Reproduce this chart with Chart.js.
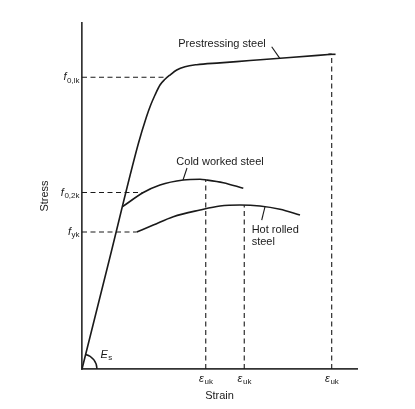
<!DOCTYPE html>
<html>
<head>
<meta charset="utf-8">
<script src="https://cdn.jsdelivr.net/npm/chart.js@4.4.1/dist/chart.umd.min.js"></script>
<style>
  html, body { margin: 0; padding: 0; background: #fff; }
  #wrap { width: 415px; height: 409px; position: relative; }
</style>
</head>
<body>
<div id="wrap"><canvas id="chart"></canvas></div>
<script>
// Stress-strain curves (arbitrary units, both axes 0-100)
const prestressStrain = [0, 10.0, 20.5, 23.45, 24.98, 26.55, 28.36, 30.18, 32.0, 34.44, 37.45, 41.71, 50.18, 61.09, 75.64, 90.80];
const prestressStress = [0, 31.79, 65.17, 72.9, 76.30, 79.19, 82.08, 83.73, 84.97, 86.42, 87.37, 87.95, 88.47, 89.15, 90.05, 90.95];

const coldStrain = [14.76, 22.3, 28.36, 36.84, 42.91, 45.35, 51.38, 58.65];
const coldStress = [46.93, 51.0, 53.18, 54.62, 54.83, 54.62, 53.84, 52.23];

const hotStrain = [19.9, 25.93, 33.20, 42.91, 50.18, 57.45, 64.73, 72.00, 79.27];
const hotStress = [39.6, 41.62, 44.02, 45.95, 47.11, 47.40, 47.11, 46.16, 44.51];

// Characteristic values on the axes
const stressTicks = [84.3, 51.0, 39.6];
const stressTickLabels = [['f', '0,lk'], ['f', '0,2k'], ['f', 'yk']];
const stressGuideEnds = [30.9, 22.3, 19.9];   // strain where each dashed line meets its curve

const strainTicks = [45.0, 59.0, 90.8];
const strainTickLabels = [['\u03b5', 'uk'], ['\u03b5', 'uk'], ['\u03b5', 'uk']];
const strainGuideTops = [54.7, 47.35, 90.95]; // stress where each dashed line meets its curve

// End cap of the prestressing curve
const capStrain = [89.6, 92.2];
const capStress = [90.95, 90.95];

// Curve names and their leader lines
const curveNames = ['Prestressing steel', 'Cold worked steel', 'Hot rolled\nsteel'];
const nameStrain = [50.9, 50.2, 61.7];
const nameStress = [93.93, 59.74, 40.17];
const nameAlign = ['center', 'center', 'left'];
const leaderStrain = [[68.98, 72.0], [38.18, 36.73], [65.35, 66.55]];
const leaderStress = [[93.15, 89.7], [58.09, 54.62], [43.06, 46.9]];

// Modulus label near the origin
const modulusLabel = ['E', 's'];
const modulusAt = { x: 6.73, y: 4.19 };

const FONT = '"Liberation Sans", Arial, Helvetica, sans-serif';
const INK = '#1a1a1a';

function pts(xs, ys) {
    return xs.map((x, i) => ({ x, y: ys[i] }));
}

function lineSet(data, opts) {
    return Object.assign({
        data,
        showLine: true,
        borderColor: INK,
        borderWidth: 1.6,
        pointRadius: 0,
        fill: false,
        clip: false,
    }, opts);
}

const datasets = [];

// Main curves
datasets.push(lineSet(pts(prestressStrain, prestressStress), { cubicInterpolationMode: 'monotone' }));
datasets.push(lineSet(pts(coldStrain, coldStress), { cubicInterpolationMode: 'monotone' }));
datasets.push(lineSet(pts(hotStrain, hotStress), { cubicInterpolationMode: 'monotone' }));
datasets.push(lineSet(pts(capStrain, capStress), {}));

// Dashed guides
stressTicks.forEach((v, i) => {
    datasets.push(lineSet(pts([0, stressGuideEnds[i]], [v, v]), { borderWidth: 1.1, borderDash: [5, 3.5] }));
});
strainTicks.forEach((v, i) => {
    datasets.push(lineSet(pts([v, v], [0, strainGuideTops[i]]), { borderWidth: 1.1, borderDash: [5, 3.5] }));
});

// Leaders
leaderStrain.forEach((xs, i) => {
    datasets.push(lineSet(pts(xs, leaderStress[i]), { borderWidth: 1.1 }));
});

function drawSub(ctx, main, sub, x, y, align, size) {
    ctx.font = 'italic ' + size + 'px ' + FONT;
    const w1 = ctx.measureText(main).width;
    ctx.font = (size - 3) + 'px ' + FONT;
    const w2 = ctx.measureText(sub).width;
    let left = x;
    if (align === 'right') left = x - w1 - w2;
    else if (align === 'center') left = x - (w1 + w2) / 2;
    ctx.textAlign = 'left';
    ctx.textBaseline = 'middle';
    ctx.font = 'italic ' + size + 'px ' + FONT;
    ctx.fillText(main, left, y);
    ctx.font = (size - 3) + 'px ' + FONT;
    ctx.fillText(sub, left + w1 + 0.5, y + 3);
}

const annotations = {
    id: 'annotations',
    afterDraw(chart) {
        const ctx = chart.ctx;
        const xs = chart.scales.x;
        const ys = chart.scales.y;
        const area = chart.chartArea;
        ctx.save();
        ctx.fillStyle = INK;

        // Stress tick labels
        stressTicks.forEach((v, i) => {
            drawSub(ctx, stressTickLabels[i][0], stressTickLabels[i][1], area.left - 3, ys.getPixelForValue(v), 'right', 11);
        });
        // Strain tick labels
        strainTicks.forEach((v, i) => {
            drawSub(ctx, strainTickLabels[i][0], strainTickLabels[i][1], xs.getPixelForValue(v), area.bottom + 10, 'center', 11);
        });

        // Curve names
        ctx.font = '11px ' + FONT;
        ctx.textBaseline = 'middle';
        curveNames.forEach((name, i) => {
            ctx.textAlign = nameAlign[i];
            name.split('\n').forEach((line, j) => {
                ctx.fillText(line, xs.getPixelForValue(nameStrain[i]), ys.getPixelForValue(nameStress[i]) + j * 11.7);
            });
        });

        // Axis titles
        ctx.textAlign = 'center';
        ctx.fillText('Strain', (area.left + area.right) / 2, area.bottom + 27);
        ctx.save();
        ctx.translate(area.left - 37, (area.top + area.bottom) / 2);
        ctx.rotate(-Math.PI / 2);
        ctx.fillText('Stress', 0, 0);
        ctx.restore();

        // Modulus arc between the strain axis and the elastic line
        const ox = xs.getPixelForValue(0);
        const oy = ys.getPixelForValue(0);
        const ex = xs.getPixelForValue(prestressStrain[2]);
        const ey = ys.getPixelForValue(prestressStress[2]);
        const ang = Math.atan2(ey - oy, ex - ox);
        ctx.beginPath();
        ctx.strokeStyle = INK;
        ctx.lineWidth = 1.4;
        ctx.arc(ox, oy, 15, ang, 0);
        ctx.stroke();
        drawSub(ctx, modulusLabel[0], modulusLabel[1], xs.getPixelForValue(modulusAt.x), ys.getPixelForValue(modulusAt.y), 'left', 11);

        ctx.restore();
    }
};

const axisBase = {
    type: 'linear',
    min: 0,
    max: 100,
    grid: { display: false, drawTicks: false },
    ticks: { display: false },
    border: { display: true, color: '#333', width: 1.7 },
};

new Chart(document.getElementById('chart'), {
    type: 'scatter',
    data: { datasets },
    options: {
        responsive: true,
        maintainAspectRatio: false,
        animation: false,
        layout: { padding: { left: 82, right: 58, top: 23, bottom: 40 } },
        plugins: { legend: { display: false }, tooltip: { enabled: false } },
        scales: {
            x: Object.assign({}, axisBase, {
                afterBuildTicks: (s) => { s.ticks = strainTicks.map(v => ({ value: v })); }
            }),
            y: Object.assign({}, axisBase, {
                afterBuildTicks: (s) => { s.ticks = stressTicks.map(v => ({ value: v })); }
            }),
        },
    },
    plugins: [annotations],
});
</script>
</body>
</html>
